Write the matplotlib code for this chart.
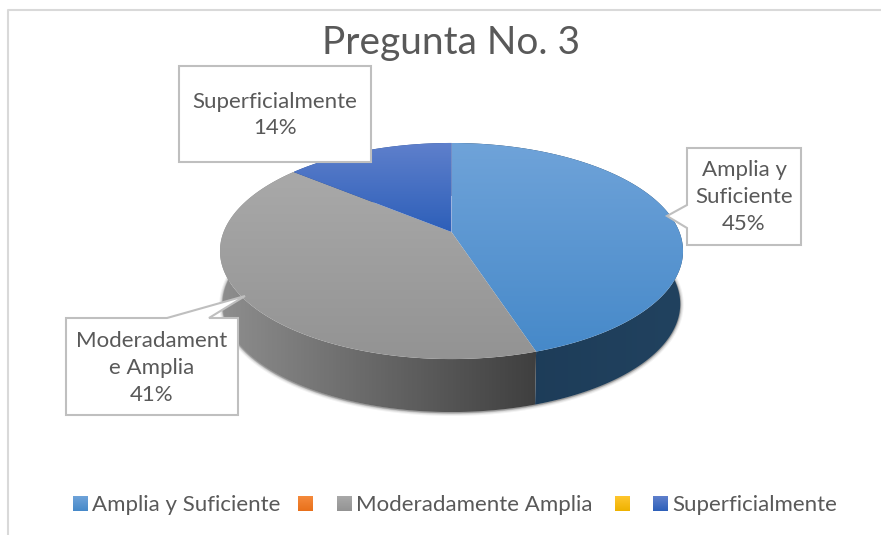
import numpy as np
import matplotlib
matplotlib.use('Agg')
import matplotlib.pyplot as plt
from matplotlib.patches import Polygon, Rectangle
from matplotlib.colors import LinearSegmentedColormap

plt.rcParams['font.family'] = ['Lato', 'DejaVu Sans']

title = 'Pregunta No. 3'
categories = ['Amplia y Suficiente', '', 'Moderadamente Amplia', '', 'Superficialmente']
values = [45, 0, 41, 0, 14]
label_names = ['Amplia y\nSuficiente', '', 'Moderadament\ne Amplia', '', 'Superficialmente']
face_colors = [('#6fa3d9', '#4689c9'), ('#f58a3c', '#e8701a'), ('#a9a9a9', '#939393'),
               ('#ffc62e', '#eeb200'), ('#5f80cc', '#2d5fb9')]
side_colors = [('#1c3a56', '#21425f'), ('#a04a10', '#a04a10'), ('#8e8e8e', '#3f3f3f'),
               ('#a07800', '#a07800'), ('#2a4a8a', '#2a4a8a')]

TEXT = '#595959'
BOX = '#bfbfbf'
CX, CY = 451.5, 232      # where the slices meet
A, B, K = 227.9, 104.7, 0.176  # tilted circle
DEPTH = 53
BOTTOM_SCALE = 0.988     # lower rim is a bit narrower

fig = plt.figure(figsize=(8.81, 5.35), dpi=100)
ax = fig.add_axes([0, 0, 1, 1])
ax.set_xlim(0, 881)
ax.set_ylim(535, 0)
ax.axis('off')


def rim(t):
    # t is clockwise from the top of the pie, in radians
    w = 1 + K * np.cos(t)
    return CX + A * np.sin(t) / w, CY - B * np.cos(t) / w


def lower_rim(t):
    x, y = rim(t)
    return CX + (x - CX) * BOTTOM_SCALE, y + DEPTH


def gradient(patch, c0, c1, vertical=True):
    # fill the bounding box of the patch, clipped to the patch
    verts = patch.get_xy()
    x0, x1 = verts[:, 0].min(), verts[:, 0].max()
    y0, y1 = verts[:, 1].min(), verts[:, 1].max()
    cmap = LinearSegmentedColormap.from_list('g', [c0, c1])
    ramp = np.linspace(0, 1, 256)
    ramp = ramp[:, None] if vertical else ramp[None, :]
    im = ax.imshow(ramp, cmap=cmap, extent=[x0, x1, y1, y0], aspect='auto', zorder=patch.get_zorder())
    patch.set_facecolor('none')
    patch.set_edgecolor('none')
    ax.add_patch(patch)
    im.set_clip_path(patch)


# frame of the chart
ax.plot([8, 8, 881], [535, 10, 10], color='#d9d9d9', lw=1.5, zorder=1)

# soft shadow under the pie
tt = np.linspace(np.radians(80), np.radians(280), 200)
sx, sy = lower_rim(tt)
for lw, a in [(5, 0.05), (3.5, 0.08), (2, 0.12), (1, 0.2)]:
    ax.plot(sx, sy + 0.5, color='black', alpha=a, lw=lw, zorder=2, solid_capstyle='round')

total = sum(values)
bounds = np.cumsum([0] + values) / total * 2 * np.pi

# side wall
for i in range(len(values)):
    if values[i] == 0:
        continue
    t = np.linspace(bounds[i], bounds[i + 1], 200)
    x, y = rim(t)
    lx, ly = lower_rim(t)
    xy = np.vstack([np.column_stack([x, y]), np.column_stack([lx, ly])[::-1]])
    p = Polygon(xy, closed=True, zorder=3)
    gradient(p, side_colors[i][0], side_colors[i][1], vertical=False)

# top face
for i in range(len(values)):
    if values[i] == 0:
        continue
    t = np.linspace(bounds[i], bounds[i + 1], 300)
    x, y = rim(t)
    xy = np.vstack([[CX, CY], np.column_stack([x, y])])
    p = Polygon(xy, closed=True, zorder=4)
    gradient(p, face_colors[i][0], face_colors[i][1])

# callouts
callouts = [
    (0, [(687, 148), (801, 148), (801, 245), (687, 245), (687, 228), (667, 216), (687, 205)], 744, 197),
    (2, [(66, 318), (167, 318), (245, 296), (209, 318), (238, 318), (238, 415), (66, 415)], 152, 368),
    (4, [(179, 66), (371, 66), (371, 162), (179, 162)], 275, 115),
]
for i, box, tx, ty in callouts:
    ax.add_patch(Polygon(box, closed=True, fc='white', ec=BOX, lw=1.5, zorder=5))
    ax.text(tx, ty, f'{label_names[i]}\n{values[i]}%', ha='center', va='center', fontsize=16,
            color=TEXT, linespacing=1.42, zorder=6)

ax.text(451, 43, title, ha='center', va='center', fontsize=28, color=TEXT, zorder=6)

# legend
legend_x = [73, 298, 337, 615, 653]
for i, name in enumerate(categories):
    p = Rectangle((legend_x[i], 496), 14.5, 15)
    poly = Polygon(p.get_corners(), closed=True, zorder=6)
    gradient(poly, face_colors[i][0], face_colors[i][1])
    if name:
        ax.text(legend_x[i] + 19.5, 503, name, ha='left', va='center_baseline', fontsize=16, color=TEXT, zorder=6)

ax.set_xlim(0, 881)
ax.set_ylim(535, 0)
fig.savefig('out.png', dpi=100)
